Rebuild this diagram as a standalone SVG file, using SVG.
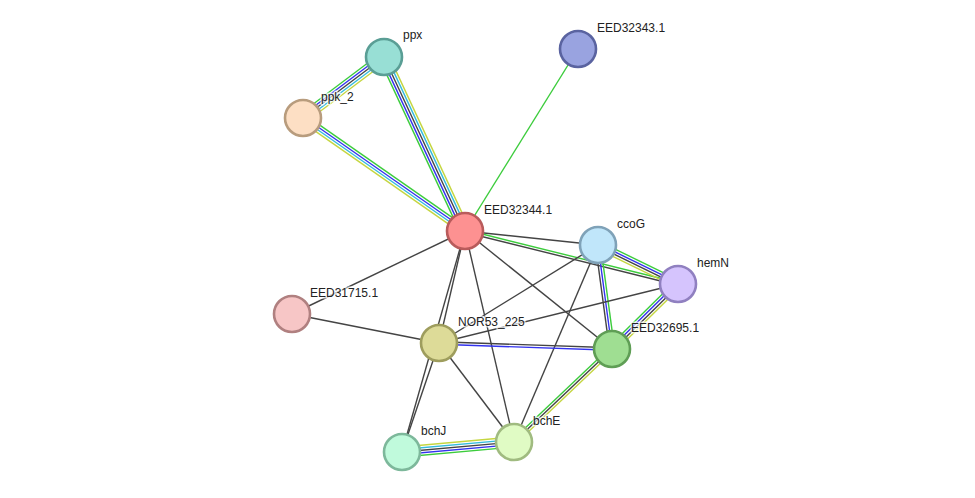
<svg xmlns="http://www.w3.org/2000/svg" width="975" height="498" viewBox="0 0 975 498">
<style>
line{stroke-width:1.4;fill:none}
.k{stroke:#444}
.g{stroke:#3ccc3c}
.b{stroke:#3333ee}
.c{stroke:#33bbdd}
.y{stroke:#c5d640}
circle{stroke-width:2.6}
text{font-family:"Liberation Sans",Arial,sans-serif;font-size:12px;fill:#222;stroke:#fff;stroke-width:3px;stroke-opacity:0.7;paint-order:stroke;stroke-linejoin:round}
</style>
<rect width="975" height="498" fill="#fff"/>
<g id="connectors">
<!-- ppx - ppk_2 -->
<line class="g" x1="381" y1="53" x2="300" y2="114"/>
<line class="b" x1="382.5" y1="55" x2="301.5" y2="116"/>
<line class="k" x1="384" y1="57" x2="303" y2="118"/>
<line class="c" x1="385.5" y1="59" x2="304.5" y2="120"/>
<line class="y" x1="387" y1="61" x2="306" y2="122"/>
<!-- ppx - EED32344.1 -->
<line class="g" x1="379.5" y1="59.1" x2="460.5" y2="233.1"/>
<line class="b" x1="381.7" y1="58.1" x2="462.7" y2="232.1"/>
<line class="k" x1="384" y1="57" x2="465" y2="231"/>
<line class="c" x1="386.3" y1="55.9" x2="467.3" y2="229.9"/>
<line class="y" x1="388.5" y1="54.9" x2="469.5" y2="228.9"/>
<!-- ppk_2 - EED32344.1 -->
<line class="g" x1="305.1" y1="114.9" x2="467.1" y2="227.9"/>
<line class="b" x1="303.7" y1="117" x2="465.7" y2="230"/>
<line class="c" x1="302.3" y1="119" x2="464.3" y2="232"/>
<line class="y" x1="300.9" y1="121.1" x2="462.9" y2="234.1"/>
<!-- EED32343.1 - EED32344.1 -->
<line class="g" x1="578" y1="49" x2="465" y2="231"/>
<!-- EED32344.1 singles -->
<line class="k" x1="465" y1="231" x2="598" y2="245"/>
<line class="g" x1="465.3" y1="229.8" x2="678.3" y2="282.8"/>
<line class="k" x1="464.7" y1="232.2" x2="677.7" y2="285.2"/>
<line class="k" x1="465" y1="231" x2="292" y2="314"/>
<line class="k" x1="465" y1="231" x2="439" y2="343"/>
<line class="k" x1="465" y1="231" x2="402" y2="452"/>
<line class="k" x1="465" y1="231" x2="514" y2="442"/>
<line class="k" x1="465" y1="231" x2="612" y2="349"/>
<!-- ccoG - hemN -->
<line class="g" x1="599.6" y1="241.6" x2="679.6" y2="280.6"/>
<line class="b" x1="598.5" y1="243.9" x2="678.5" y2="282.9"/>
<line class="k" x1="597.5" y1="246.1" x2="677.5" y2="285.1"/>
<line class="y" x1="596.4" y1="248.4" x2="676.4" y2="287.4"/>
<!-- ccoG - EED32695.1 -->
<line class="k" x1="595.5" y1="245.3" x2="609.5" y2="349.3"/>
<line class="b" x1="598" y1="245" x2="612" y2="349"/>
<line class="g" x1="600.5" y1="244.7" x2="614.5" y2="348.7"/>
<!-- ccoG singles -->
<line class="k" x1="598" y1="245" x2="439" y2="343"/>
<line class="k" x1="598" y1="245" x2="514" y2="442"/>
<!-- hemN - EED32695.1 -->
<line class="g" x1="675.4" y1="281.3" x2="609.4" y2="346.3"/>
<line class="b" x1="677.1" y1="283.1" x2="611.1" y2="348.1"/>
<line class="k" x1="678.9" y1="284.9" x2="612.9" y2="349.9"/>
<line class="y" x1="680.6" y1="286.7" x2="614.6" y2="351.7"/>
<!-- hemN - NOR53_225 -->
<line class="k" x1="678" y1="284" x2="439" y2="343"/>
<!-- EED31715.1 - NOR53_225 -->
<line class="k" x1="292" y1="314" x2="439" y2="343"/>
<!-- NOR53_225 - EED32695.1 -->
<line class="k" x1="439" y1="341.75" x2="612" y2="347.75"/>
<line class="b" x1="439" y1="344.25" x2="612" y2="350.25"/>
<!-- NOR53_225 singles -->
<line class="k" x1="439" y1="343" x2="514" y2="442"/>
<line class="k" x1="439" y1="343" x2="402" y2="452"/>
<!-- EED32695.1 - bchE -->
<line class="g" x1="610.3" y1="347.2" x2="512.3" y2="440.2"/>
<line class="k" x1="612" y1="349" x2="514" y2="442"/>
<line class="y" x1="613.7" y1="350.8" x2="515.7" y2="443.8"/>
<!-- bchJ - bchE -->
<line class="y" x1="401.55" y1="447" x2="513.55" y2="437"/>
<line class="c" x1="401.8" y1="449.5" x2="513.8" y2="439.5"/>
<line class="k" x1="402" y1="452" x2="514" y2="442"/>
<line class="b" x1="402.2" y1="454.5" x2="514.2" y2="444.5"/>
<line class="g" x1="402.45" y1="457" x2="514.45" y2="447"/>
</g>
<g id="ppx"><circle cx="384" cy="57" r="18" fill="#98dfd5" stroke="#5a9e95"/><text x="403" y="39">ppx</text></g>
<g id="EED32343.1"><circle cx="578" cy="49" r="18" fill="#99a3e0" stroke="#5a63a0"/><text x="597" y="32">EED32343.1</text></g>
<g id="ppk_2"><circle cx="303" cy="118" r="18" fill="#fddfc4" stroke="#b89c7d"/><text x="321" y="101">ppk_2</text></g>
<g id="EED32344.1"><circle cx="465" cy="231" r="18" fill="#fd9191" stroke="#b95b5b"/><text x="484" y="214">EED32344.1</text></g>
<g id="ccoG"><circle cx="598" cy="245" r="18" fill="#c0e6fa" stroke="#7fa2b8"/><text x="617" y="228">ccoG</text></g>
<g id="hemN"><circle cx="678" cy="284" r="18" fill="#d5c4fd" stroke="#9080c0"/><text x="697" y="267">hemN</text></g>
<g id="EED31715.1"><circle cx="292" cy="314" r="18" fill="#f7c6c6" stroke="#b08080"/><text x="310" y="297">EED31715.1</text></g>
<g id="NOR53_225"><circle cx="439" cy="343" r="18" fill="#dddb98" stroke="#9e9d5d"/><text x="458" y="326">NOR53_225</text></g>
<g id="EED32695.1"><circle cx="612" cy="349" r="18" fill="#9fde92" stroke="#5f9e55"/><text x="631" y="332">EED32695.1</text></g>
<g id="bchJ"><circle cx="402" cy="452" r="18" fill="#c0fadc" stroke="#7db89b"/><text x="421" y="435">bchJ</text></g>
<g id="bchE"><circle cx="514" cy="442" r="18" fill="#e0fbc4" stroke="#a0bb80"/><text x="533" y="425">bchE</text></g>
</svg>
